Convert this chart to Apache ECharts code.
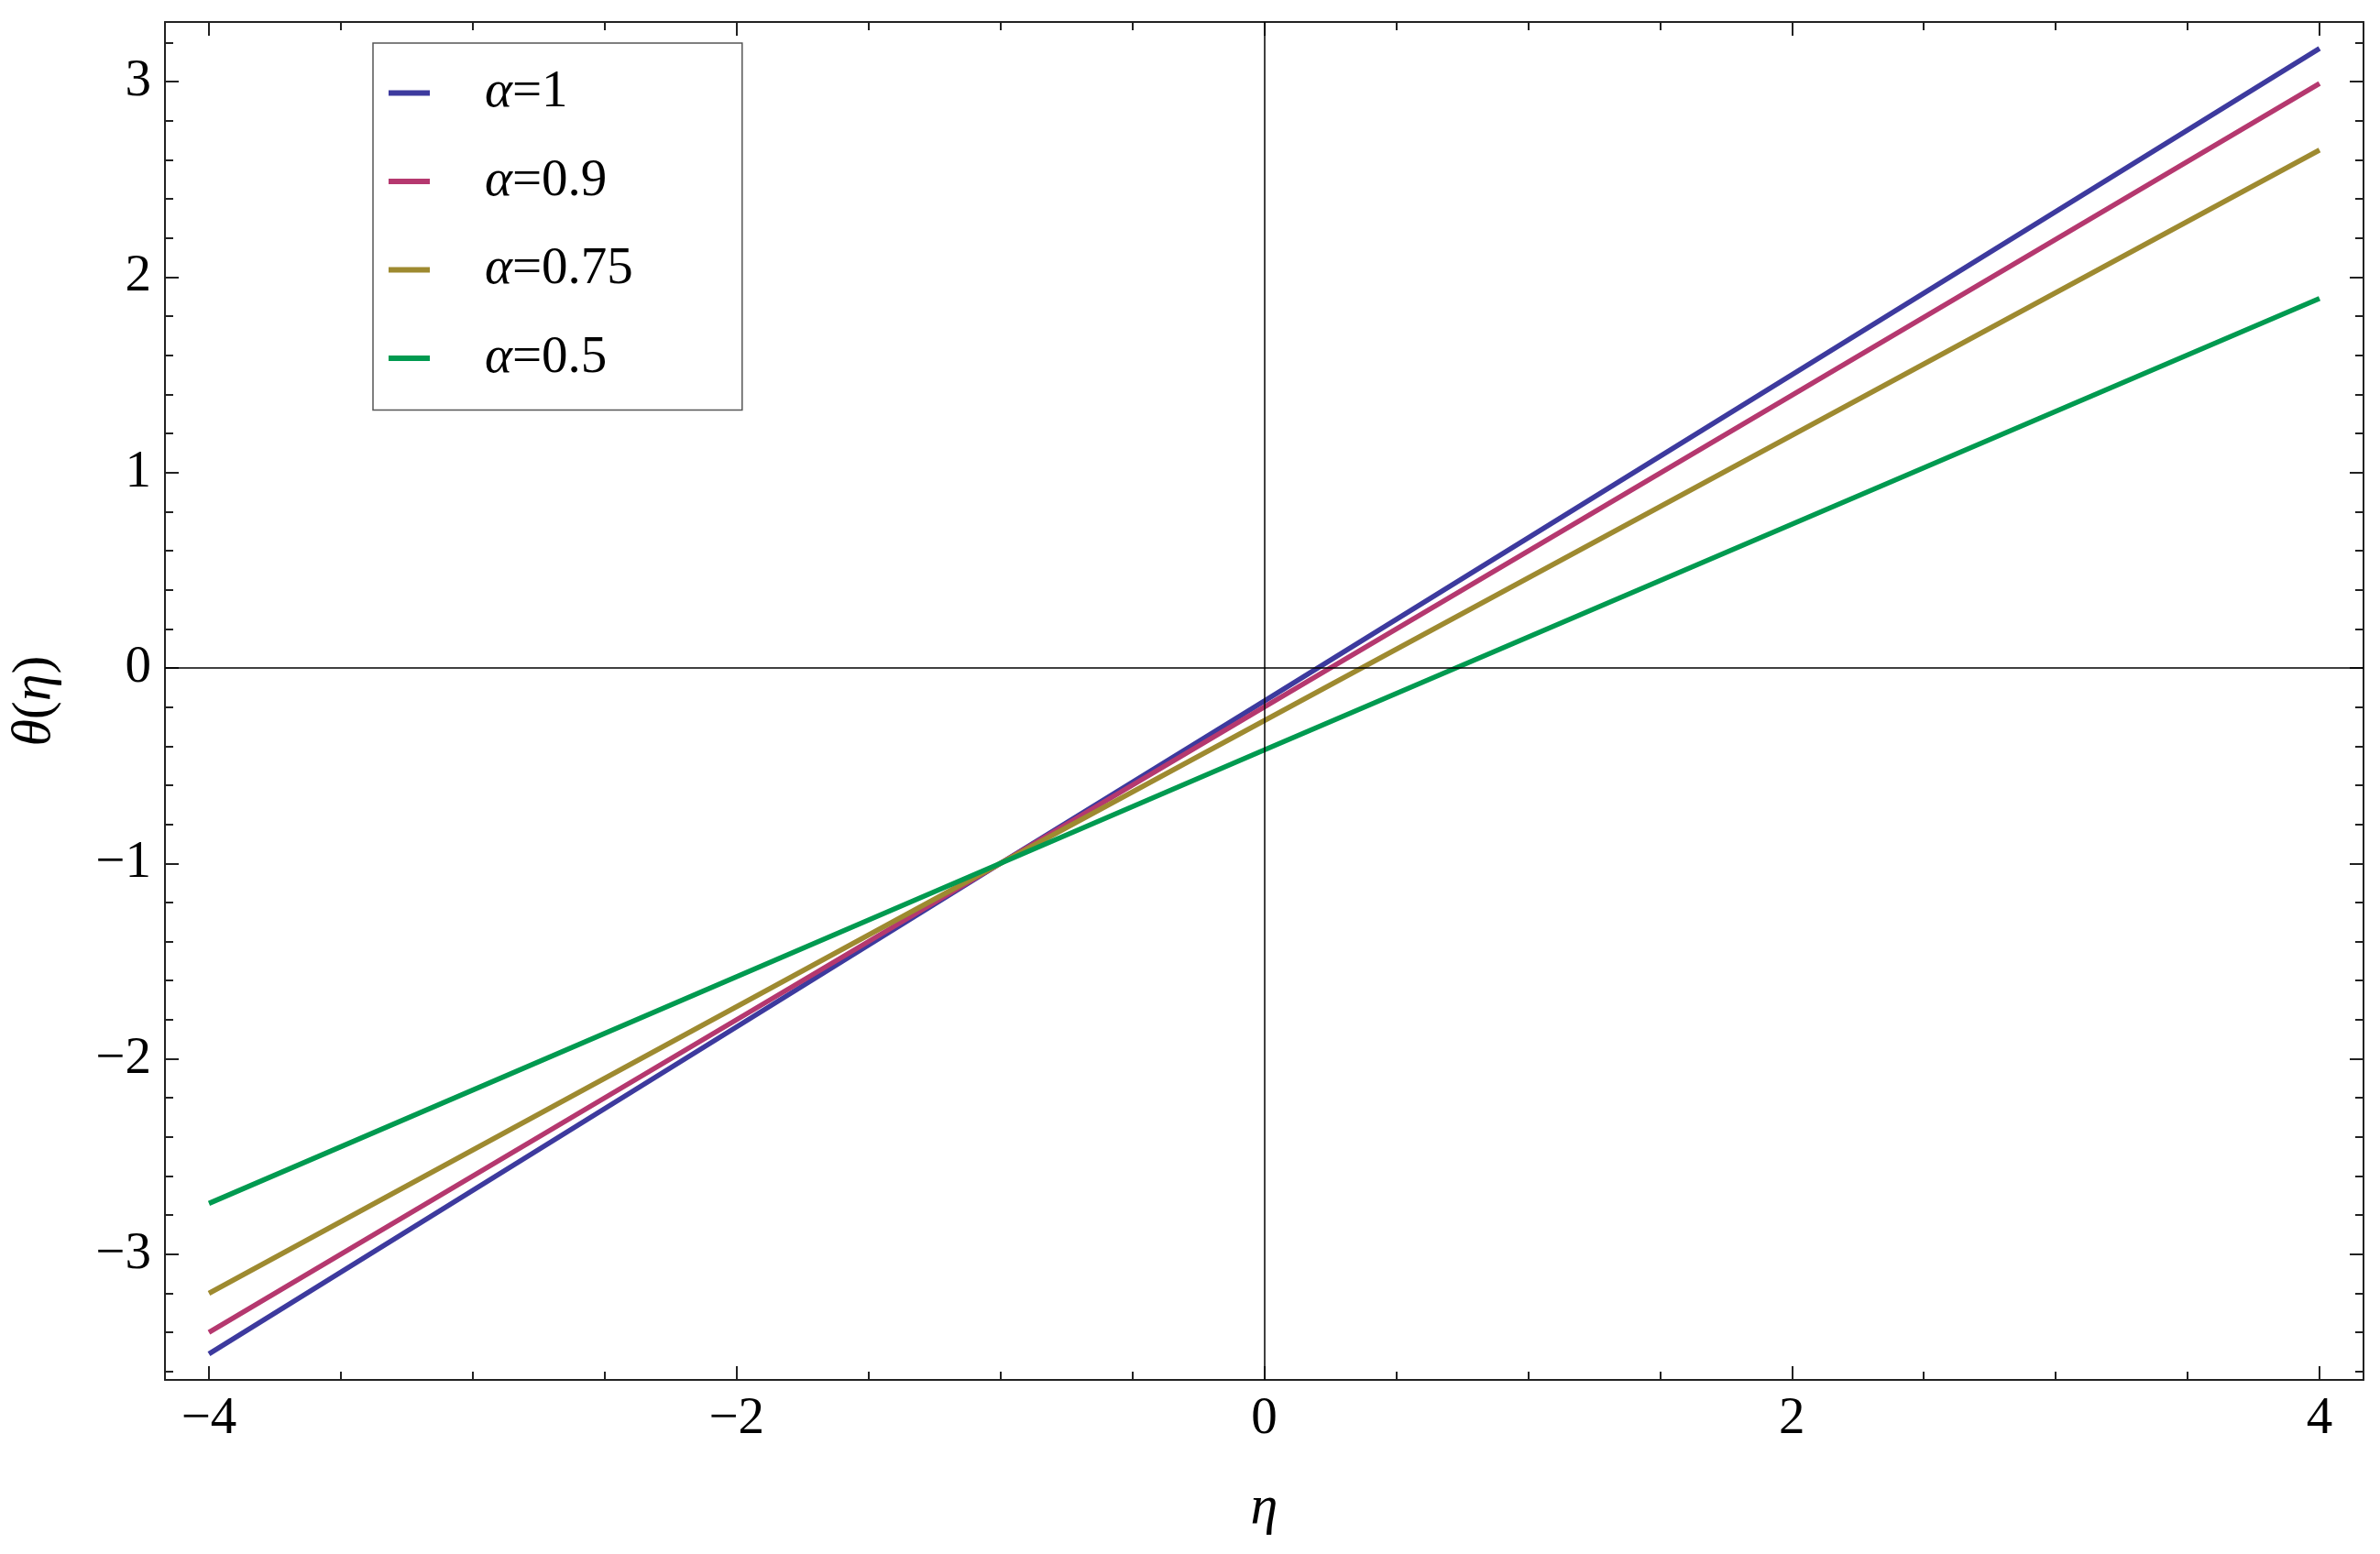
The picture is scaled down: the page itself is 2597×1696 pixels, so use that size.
<!DOCTYPE html>
<html>
<head>
<meta charset="utf-8">
<title>theta(eta)</title>
<script src="https://cdn.jsdelivr.net/npm/echarts@6/dist/echarts.min.js"></script>
<style>
  html, body { margin: 0; padding: 0; background: #fff; }
  #chart { width: 2597px; height: 1696px; }
</style>
</head>
<body>
<div id="chart"></div>
<script>
// values (eta, theta)
const etaPts = [-4, -1, 0, 4]
const alpha1 = [-3.51, -1.0, -0.17, 3.17]
const alpha09 = [-3.40, -1.0, -0.20, 2.99]
const alpha075 = [-3.20, -1.0, -0.27, 2.65]
const alpha05 = [-2.74, -1.0, -0.42, 1.89]

const seriesNames = ['α=1', 'α=0.9', 'α=0.75', 'α=0.5']
const seriesColors = ['#3d3a9e', '#b5386f', '#9e8a30', '#009a50']

const xMajor = [-4, -2, 0, 2, 4]
const xMinor = [-4, -3.5, -3, -2.5, -2, -1.5, -1, -0.5, 0, 0.5, 1, 1.5, 2, 2.5, 3, 3.5, 4]
const yMajor = [-3, -2, -1, 0, 1, 2, 3]
const yMinor = [-3.6, -3.4, -3.2, -3, -2.8, -2.6, -2.4, -2.2, -2, -1.8, -1.6, -1.4, -1.2, -1,
  -0.8, -0.6, -0.4, -0.2, 0, 0.2, 0.4, 0.6, 0.8, 1, 1.2, 1.4, 1.6, 1.8, 2, 2.2, 2.4, 2.6, 2.8, 3, 3.2]

const xRange = [-4.1667, 4.1667]
const yRange = [-3.643, 3.305]

const font = 'Liberation Serif'
const frameColor = '#222'
const minus = v => String(v).replace('-', '−')

const chart = echarts.init(document.getElementById('chart'))

// one axis: frame side with major or minor ticks
const makeX = (pos, ticks, len, labels, withLine) => ({
  type: 'value',
  position: pos,
  min: xRange[0],
  max: xRange[1],
  splitLine: { show: false },
  axisLine: { show: withLine, onZero: false, lineStyle: { color: frameColor, width: 2 } },
  axisTick: { show: true, inside: true, length: len, customValues: ticks,
    lineStyle: { color: frameColor, width: 2 } },
  axisLabel: labels ? {
    show: true, customValues: xMajor, margin: 15,
    fontFamily: font, fontSize: 57, color: '#000', formatter: minus
  } : { show: false }
})

const makeY = (pos, ticks, len, labels, withLine) => ({
  type: 'value',
  position: pos,
  min: yRange[0],
  max: yRange[1],
  splitLine: { show: false },
  axisLine: { show: withLine, onZero: false, lineStyle: { color: frameColor, width: 2 } },
  axisTick: { show: true, inside: true, length: len, customValues: ticks,
    lineStyle: { color: frameColor, width: 2 } },
  axisLabel: labels ? {
    show: true, customValues: yMajor, margin: 15,
    fontFamily: font, fontSize: 57, color: '#000', formatter: minus
  } : { show: false }
})

const xAxes = [
  makeX('bottom', xMajor, 15, true, true),
  makeX('bottom', xMinor, 9, false, false),
  makeX('top', xMajor, 15, false, true),
  makeX('top', xMinor, 9, false, false)
]
xAxes[0].name = 'η'
xAxes[0].nameLocation = 'middle'
xAxes[0].nameGap = 110
xAxes[0].nameTextStyle = { fontFamily: font, fontSize: 60, fontStyle: 'italic', color: '#000' }

const yAxes = [
  makeY('left', yMajor, 15, true, true),
  makeY('left', yMinor, 9, false, false),
  makeY('right', yMajor, 15, false, true),
  makeY('right', yMinor, 9, false, false)
]
yAxes[0].name = '{i|θ}(​{i|η})'
yAxes[0].nameLocation = 'middle'
yAxes[0].nameRotate = 90
yAxes[0].nameGap = 112
yAxes[0].nameTextStyle = {
  fontFamily: font, fontSize: 60, color: '#000',
  rich: { i: { fontFamily: font, fontSize: 60, fontStyle: 'italic', color: '#000' } }
}

const curves = [alpha1, alpha09, alpha075, alpha05]
const lineSeries = curves.map((vals, i) => ({
  name: seriesNames[i],
  type: 'line',
  xAxisIndex: 0,
  yAxisIndex: 0,
  data: etaPts.map((x, j) => [x, vals[j]]),
  showSymbol: false,
  symbol: 'none',
  z: 3,
  lineStyle: { color: seriesColors[i], width: 5.5 },
  itemStyle: { color: seriesColors[i] }
}))

// axes through the origin
lineSeries.push({
  type: 'line',
  xAxisIndex: 0,
  yAxisIndex: 0,
  data: [],
  z: 1,
  markLine: {
    silent: true,
    symbol: 'none',
    label: { show: false },
    lineStyle: { color: '#000', width: 1.5, type: 'solid' },
    data: [{ xAxis: 0 }, { yAxis: 0 }]
  }
})

const option = {
  animation: false,
  backgroundColor: '#fff',
  grid: { left: 177, right: 18, top: 24, bottom: 190 },
  xAxis: xAxes,
  yAxis: yAxes,
  legend: {
    data: seriesNames,
    orient: 'vertical',
    left: 407,
    top: 47,
    padding: [23, 119, 25, 17],
    itemGap: 33.5,
    itemWidth: 45,
    itemHeight: 6,
    icon: 'rect',
    borderColor: '#555',
    borderWidth: 1.5,
    backgroundColor: '#fff',
    textStyle: {
      fontFamily: font,
      fontSize: 57,
      lineHeight: 63,
      color: '#000',
      padding: [0, 0, 0, 55],
      rich: {
        a: { fontFamily: font, fontSize: 57, fontStyle: 'italic', color: '#000' },
        b: { fontFamily: font, fontSize: 57, color: '#000' }
      }
    },
    formatter: n => '{a|α}{b|' + n.slice(1) + '}'
  },
  series: lineSeries
}

chart.setOption(option)
</script>
</body>
</html>
